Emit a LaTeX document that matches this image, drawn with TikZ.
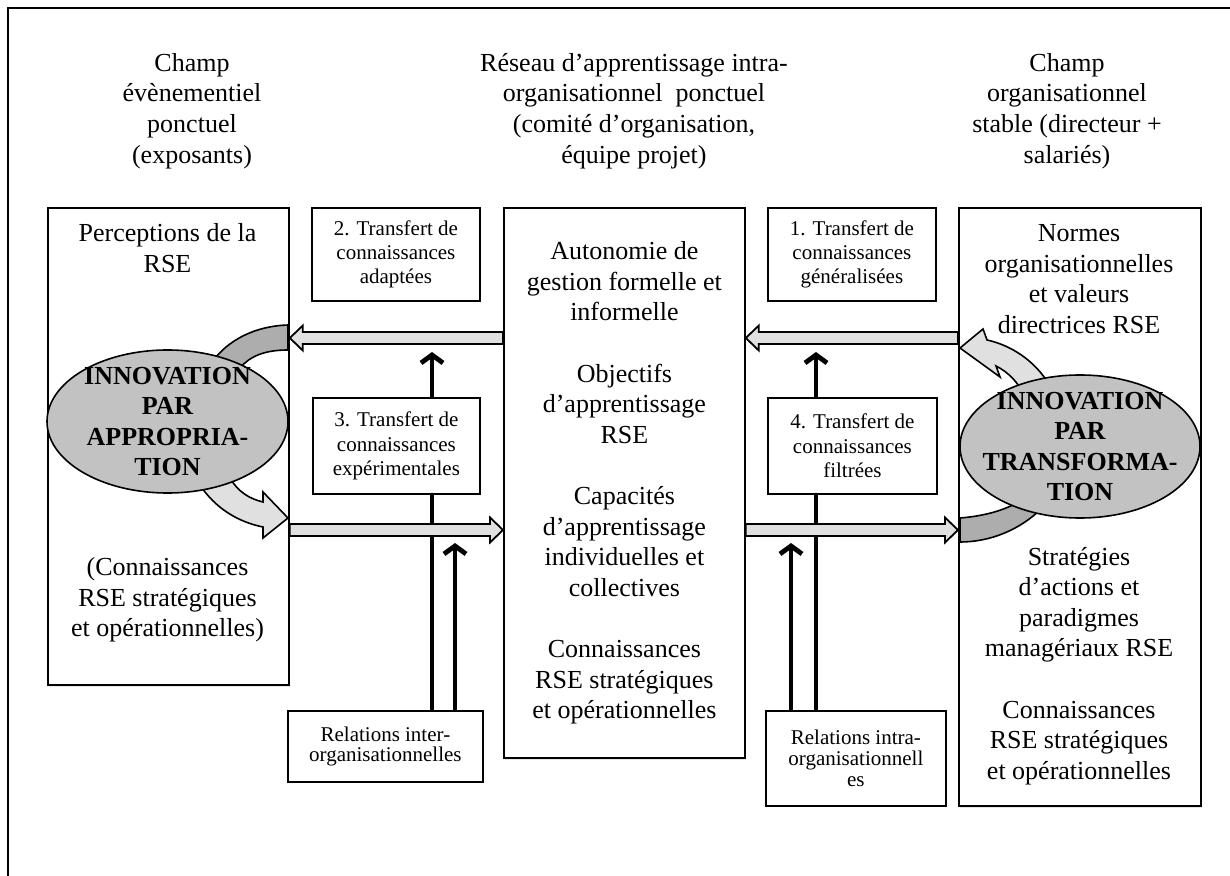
\documentclass[tikz,border=0pt]{standalone}
\usepackage{fontspec}
\setmainfont{Liberation Serif}
\usetikzlibrary{calc,shapes.geometric,arrows.meta,shadows,positioning}

\tikzset{
  grande/.style={draw,line width=0.9pt,fill=white,anchor=north west,inner sep=0pt,align=center,
    font=\fontsize{13}{15.3}\selectfont,
    drop shadow={opacity=0.2,shadow xshift=0.6pt,shadow yshift=-1pt}},
  petite/.style={draw,line width=0.9pt,fill=white,anchor=north west,inner sep=0pt,align=center,
    font=\fontsize{10.5}{12.2}\selectfont},
  relation/.style={petite,font=\fontsize{10.5}{10.3}\selectfont},
  texte/.style={align=center,inner sep=0pt,font=\fontsize{13}{15.3}\selectfont},
  innov/.style={ellipse,draw,line width=0.8pt,fill=black!24,inner sep=0pt},
  innovtexte/.style={align=center,inner sep=0pt,font=\fontsize{13}{15.3}\selectfont\bfseries},
  creuse/.style={draw,line width=0.9pt,fill=black!12},
  bande/.style={draw,line width=0.8pt,fill=black!32},
  trait/.style={line width=2.4pt,-{Straight Barb[length=4pt,width=11pt]}}
}

% fleche creuse horizontale de #1 vers #2
\newcommand\flechecreuse[2]{%
  \filldraw[creuse] let \p1=#1, \p2=#2, \p3=($#2!6.5pt!#1$) in
    (\x1,\y1+3pt) -- (\x3,\y1+3pt) -- (\x3,\y1+6.25pt) -- (\x2,\y2)
    -- (\x3,\y1-6.25pt) -- (\x3,\y1-3pt) -- (\x1,\y1-3pt) -- cycle;}

\begin{document}
\begin{tikzpicture}[x=0.5pt,y=-0.5pt]
  \useasboundingbox (0,0) rectangle (1230,876);
  \draw[line width=1.2pt] (8,890) -- (8,8) -- (1240,8);

  % titres
  \node[texte] (champev) at (192,111) {Champ\\évènementiel\\ponctuel\\(exposants)};
  \node[texte] (reseau) at (634,111) {Réseau d’apprentissage intra-\\organisationnel\ \ ponctuel\\(comité d’organisation,\\équipe projet)};
  \node[texte] (champorg) at (1067,111) {Champ\\organisationnel\\stable (directeur +\\salariés)};

  % grandes boites
  \node[grande,minimum width=120.5pt,minimum height=238.5pt] (gauche) at (47,207) {};
  \node[grande,minimum width=120.5pt,minimum height=275pt] (milieu) at (503,207)
    {Autonomie de\\gestion formelle et\\informelle\\[15.3pt]Objectifs\\d’apprentissage\\RSE\\[15.3pt]Capacités\\d’apprentissage\\individuelles et\\collectives\\[15.3pt]Connaissances\\RSE stratégiques\\et opérationnelles};
  \node[grande,minimum width=121pt,minimum height=299pt] (droite) at (958,207) {};

  \node[texte] (percep) at (167.5,248) {Perceptions de la\\RSE};
  \node[texte] (connG) at (167.5,600) {(Connaissances\\RSE stratégiques\\et opérationnelles)};
  \node[texte] (normes) at (1079,279) {Normes\\organisationnelles\\et valeurs\\directrices RSE};
  \node[texte] (strat) at (1079,666) {Stratégies\\d’actions et\\paradigmes\\managériaux RSE\\[15.3pt]Connaissances\\RSE stratégiques\\et opérationnelles};

  % relations
  \node[relation,minimum width=97.5pt,minimum height=35.5pt] (relinter) at (287,710) {Relations inter-\\organisationnelles};
  \node[relation,minimum width=90pt,minimum height=47.5pt] (relintra) at (765,710) {Relations intra-\\organisationnell\\es};

  \coordinate (c2) at (432,352);
  \coordinate (c3) at (455,543);
  \coordinate (c1) at (816,352);
  \coordinate (c4) at (791,543);
  \draw[trait] (relinter.north -| c2) -- (c2);
  \draw[trait] (relinter.north -| c3) -- (c3);
  \draw[trait] (relintra.north -| c1) -- (c1);
  \draw[trait] (relintra.north -| c4) -- (c4);

  % transferts
  \node[petite,minimum width=84pt,minimum height=46.5pt] (trans2) at (311,207) {2. Transfert de\\connaissances\\adaptées};
  \node[petite,minimum width=84pt,minimum height=46.5pt] (trans1) at (767,207) {1. Transfert de\\connaissances\\généralisées};
  \node[petite,minimum width=83.5pt,minimum height=48pt] (trans3) at (312,397) {3. Transfert de\\connaissances\\expérimentales};
  \node[petite,minimum width=84.5pt,minimum height=48pt] (trans4) at (767,397) {4. Transfert de\\connaissances\\filtrées};

  \coordinate (haut) at (0,338);
  \coordinate (bas) at (0,530);
  \flechecreuse{(milieu.west |- haut)}{(gauche.east |- haut)}
  \flechecreuse{(droite.west |- haut)}{(milieu.east |- haut)}
  \flechecreuse{(gauche.east |- bas)}{(milieu.west |- bas)}
  \flechecreuse{(milieu.east |- bas)}{(droite.west |- bas)}

  % boucles d'innovation
  \filldraw[bande] (288,325) .. controls (255,326) and (228,340) .. (212,362)
    -- (240,368) .. controls (250,356) and (265,350) .. (288,350) -- cycle;
  \filldraw[creuse,line width=0.8pt] (230,478) .. controls (238,492) and (250,499) .. (263,502)
    -- (263,492) -- (288,518) -- (263,538) -- (263,527)
    .. controls (238,522) and (215,508) .. (200,485) -- cycle;
  \filldraw[creuse,line width=0.8pt] (1050,386) .. controls (1035,360) and (1010,345) .. (987,340)
    -- (983,329) -- (960,348) -- (1000,377) -- (996,366)
    .. controls (1008,372) and (1018,382) .. (1024,395) -- cycle;
  \filldraw[bande] (960,518) .. controls (985,516) and (1005,510) .. (1018,502)
    -- (1042,508) .. controls (1020,530) and (990,542) .. (960,542) -- cycle;

  \node[innov,minimum width=120.5pt,minimum height=71.5pt] (innovapp) at (167.5,421.5) {};
  \node[innovtexte] (txtapp) at (innovapp.center) {INNOVATION\\PAR\\APPROPRIA-\\TION};
  \node[innov,minimum width=120pt,minimum height=71.5pt] (innovtrans) at (1080,446.5) {};
  \node[innovtexte] (txttrans) at (innovtrans.center) {INNOVATION\\PAR\\TRANSFORMA-\\TION};
\end{tikzpicture}
\end{document}
